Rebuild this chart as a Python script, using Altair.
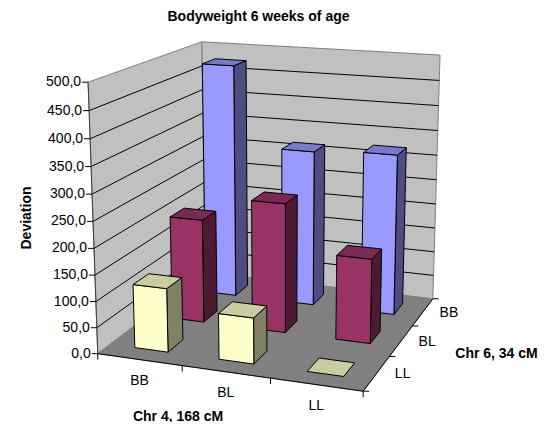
import numpy as np
import altair as alt

# ---- data
categories = ["BB", "BL", "LL"]           # Chr 4, along the front edge
depth_labels = ["LL", "BL", "BB"]         # Chr 6, front to back
values_LL = [122.0, 87.0, 0.0]
values_BL = [205.0, 253.0, 164.0]
values_BB = [475.0, 315.0, 322.0]
y_ticks = [0, 50, 100, 150, 200, 250, 300, 350, 400, 450, 500]
y_tick_labels = ["0,0", "50,0", "100,0", "150,0", "200,0", "250,0", "300,0",
                 "350,0", "400,0", "450,0", "500,0"]

series = [values_LL, values_BL, values_BB]
front_colors = ["#FFFFCC", "#993366", "#9999FF"]
side_colors = ["#808066", "#4D1A33", "#4D4D80"]
top_colors = ["#CCCCA3", "#7A2952", "#7A7ACC"]

# ---- perspective camera, fitted to the box corners of the reference
OFF = 8
world = [(0, 0, 0), (1, 0, 0), (1, 1, 0), (0, 1, 0), (0, 0, 1), (0, 1, 1), (1, 1, 1)]
image = [(98, 354), (363, 391), (433, 299), (205, 272), (88, 82), (202, 42), (440, 55)]
A, b = [], []
for (X, Y, Z), (u, v) in zip(world, image):
    u, v = u - OFF, v - OFF
    A.append([X, Y, Z, 1, 0, 0, 0, 0, -u * X, -u * Y, -u * Z])
    b.append(u)
    A.append([0, 0, 0, 0, X, Y, Z, 1, -v * X, -v * Y, -v * Z])
    b.append(v)
P = np.append(np.linalg.lstsq(np.array(A, float), np.array(b, float), rcond=None)[0], 1).reshape(3, 4)


def proj(x, y, z):
    h = P @ np.array([x, y, z, 1.0])
    return [float(h[0] / h[2]), float(h[1] / h[2])]


def poly(points, fill, stroke):
    pts = [proj(*p) for p in points]
    return {"type": "Feature", "properties": {"fill": fill, "stroke": stroke},
            "geometry": {"type": "Polygon", "coordinates": [pts + [pts[0]]]}}


def line(pts, stroke):
    return {"type": "Feature", "properties": {"stroke": stroke},
            "geometry": {"type": "LineString", "coordinates": pts}}


ZMAX = 500.0
walls = [
    poly([(0, 0, 0), (0, 1, 0), (0, 1, 1), (0, 0, 1)], "#C0C0C0", "#808080"),
    poly([(0, 1, 0), (1, 1, 0), (1, 1, 1), (0, 1, 1)], "#C0C0C0", "#808080"),
    poly([(0, 0, 0), (1, 0, 0), (1, 1, 0), (0, 1, 0)], "#808080", "#808080"),
]

grid = []
for t in y_ticks[1:-1]:
    z = t / ZMAX
    grid.append(line([proj(0, 0, z), proj(0, 1, z), proj(1, 1, z)], "#000000"))

bars = []
G = 0.3  # gap on each side of a bar, as a share of a cell
for d in range(2, -1, -1):
    for c in range(3):
        h = series[d][c] / ZMAX
        x0, x1 = (c + G) / 3, (c + 1 - G) / 3
        y0, y1 = (d + G) / 3, (d + 1 - G) / 3
        if h > 0:
            bars.append(poly([(x1, y0, 0), (x1, y1, 0), (x1, y1, h), (x1, y0, h)], side_colors[d], "#000000"))
            bars.append(poly([(x0, y0, 0), (x1, y0, 0), (x1, y0, h), (x0, y0, h)], front_colors[d], "#000000"))
        bars.append(poly([(x0, y0, h), (x1, y0, h), (x1, y1, h), (x0, y1, h)], top_colors[d], "#000000"))

axes = [
    line([proj(0, 0, 0), proj(1, 0, 0), proj(1, 1, 0)], "#000000"),
    line([proj(0, 0, 0), proj(0, 0, 1)], "#404040"),
]
texts = []
for t, lab in zip(y_ticks, y_tick_labels):
    x, y = proj(0, 0, t / ZMAX)
    axes.append(line([[x - 6, y], [x, y]], "#000000"))
    texts.append({"x": x - 7, "y": y, "text": lab, "align": "right"})
for i in range(4):
    x, y = proj(i / 3, 0, 0)
    axes.append(line([[x, y], [x, y + 6]], "#000000"))
    x, y = proj(1, i / 3, 0)
    axes.append(line([[x, y], [x + 6, y]], "#000000"))
for i, lab in enumerate(categories):
    x, y = proj((i + 0.5) / 3, 0, 0)
    texts.append({"x": x, "y": y + 21, "text": lab, "align": "center"})
for i, lab in enumerate(depth_labels):
    x, y = proj(1, (i + 0.5) / 3, 0)
    texts.append({"x": x + 26, "y": y + 1, "text": lab, "align": "center"})

bold_texts = [
    {"x": 250.5, "y": 9, "text": "Bodyweight 6 weeks of age", "angle": 0},
    {"x": 170, "y": 408.5, "text": "Chr 4, 168 cM", "angle": 0},
    {"x": 488.5, "y": 346, "text": "Chr 6, 34 cM", "angle": 0},
    {"x": 19, "y": 210, "text": "Deviation", "angle": 270},
]

projection = alt.Projection(type="identity", scale=1, translate=[0, 0])


def shapes(features, filled, width):
    enc = {"stroke": alt.Stroke("properties.stroke:N", scale=None)}
    if filled:
        enc["fill"] = alt.Fill("properties.fill:N", scale=None)
    return (alt.Chart(alt.Data(values=features))
            .mark_geoshape(filled=filled, strokeWidth=width, strokeJoin="miter")
            .encode(**enc).project(**projection.to_dict()))


FONT = "Liberation Sans"
label_layers = [
    alt.Chart(alt.Data(values=[r for r in texts if r["align"] == al]))
    .mark_text(font=FONT, fontSize=14, color="#000000", align=al, baseline="middle")
    .encode(x=alt.X("x:Q", scale=None, axis=None), y=alt.Y("y:Q", scale=None, axis=None), text="text:N")
    for al in ("right", "center")
]
bold_layer = (alt.Chart(alt.Data(values=bold_texts))
              .mark_text(font=FONT, fontSize=14, fontWeight="bold", color="#000000",
                         align="center", baseline="middle")
              .encode(x=alt.X("x:Q", scale=None, axis=None), y=alt.Y("y:Q", scale=None, axis=None),
                      text="text:N", angle=alt.Angle("angle:Q", scale=None)))

chart = (alt.layer(shapes(walls, True, 1), shapes(grid, False, 1), shapes(bars, True, 1),
                   shapes(axes, False, 1), *label_layers, bold_layer)
         .properties(width=535, height=414, padding=0, autosize=alt.AutoSizeParams(type="none"))
         .configure_view(stroke=None)
         .resolve_scale(x="independent", y="independent"))

chart.save("out.html", embed_options={"renderer": "svg", "actions": False})
